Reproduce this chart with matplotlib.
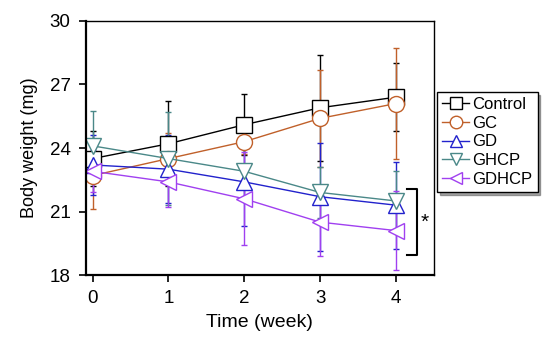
import matplotlib.pyplot as plt
from matplotlib.lines import Line2D

plt.rcParams['font.family'] = ['Liberation Sans', 'DejaVu Sans']

weeks = [0, 1, 2, 3, 4]
groups = ["Control", "GC", "GD", "GHCP", "GDHCP"]

control = [23.5, 24.2, 25.1, 25.9, 26.4]
control_sd = [1.3, 2.0, 1.45, 2.5, 1.6]
gc = [22.7, 23.5, 24.3, 25.4, 26.1]
gc_sd = [1.6, 1.2, 0.6, 2.3, 2.6]
gd = [23.2, 23.0, 22.4, 21.7, 21.3]
gd_sd = [1.4, 1.6, 2.1, 2.55, 2.05]
ghcp = [24.1, 23.5, 22.9, 21.9, 21.5]
ghcp_sd = [1.65, 2.2, 1.3, 1.2, 1.4]
gdhcp = [22.9, 22.4, 21.6, 20.5, 20.1]
gdhcp_sd = [1.0, 1.2, 2.2, 1.6, 1.85]

means = [control, gc, gd, ghcp, gdhcp]
sds = [control_sd, gc_sd, gd_sd, ghcp_sd, gdhcp_sd]
colors = ["black", "#c0602a", "#2222cc", "#4a8888", "#a040f0"]
markers = ["s", "o", "^", "v", "<"]

fig = plt.figure(figsize=(5.5, 3.43), dpi=100)
ax = fig.add_axes([0.156, 0.198, 0.633, 0.741])

handles = []
for name, m, s, c, mk in zip(groups, means, sds, colors, markers):
    ax.errorbar(weeks, m, yerr=s, color=c, marker=mk, markersize=11.5,
                markerfacecolor="white", markeredgecolor=c, markeredgewidth=1,
                linewidth=1, elinewidth=1, capsize=2.5)
    handles.append(Line2D([], [], color=c, marker=mk, markersize=9,
                          markerfacecolor="white", markeredgecolor=c,
                          linewidth=1, label=name))

# significance bracket
ax.plot([4.14, 4.28, 4.28, 4.14], [22.05, 22.05, 18.95, 18.95], color="black",
        linewidth=1.5, clip_on=False)
ax.text(4.38, 20.5, "*", fontsize=15, ha="center", va="center")

ax.set_xlim(-0.09, 4.5)
ax.set_ylim(18, 30)
ax.set_xticks(weeks)
ax.set_yticks([18, 21, 24, 27, 30])
ax.tick_params(labelsize=13.5, direction="out", length=5, width=1.2, pad=6)
ax.tick_params(top=False, right=False)
ax.spines["left"].set_linewidth(1.6)
ax.spines["bottom"].set_linewidth(1.6)
ax.spines["top"].set_linewidth(1)
ax.spines["right"].set_linewidth(1)
ax.set_xlabel("Time (week)", fontsize=14, labelpad=5)
ax.set_ylabel("Body weight (mg)", fontsize=13, labelpad=8)

leg = ax.legend(handles=handles, loc="upper left", bbox_to_anchor=(1.01, 0.72),
                fontsize=12, frameon=True, fancybox=False, shadow=True,
                borderpad=0.3, labelspacing=0.22, handlelength=1.6,
                handletextpad=0.2, borderaxespad=0)
leg.get_frame().set_edgecolor("black")
leg.get_frame().set_linewidth(1)

fig.savefig("out.png", dpi=100)
